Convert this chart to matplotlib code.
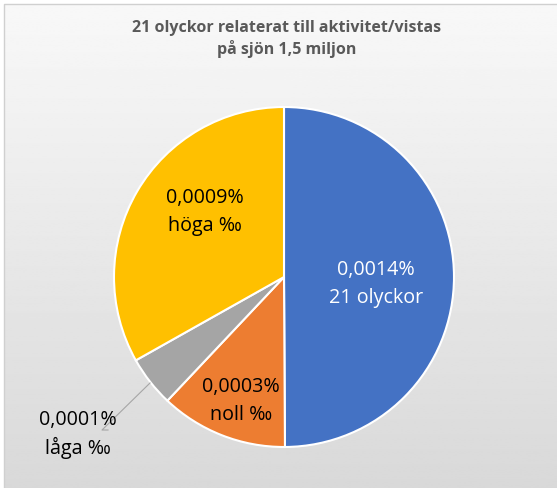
import numpy as np
import matplotlib
matplotlib.use("Agg")
import matplotlib.pyplot as plt

# =====================================================
# Data
# =====================================================

categories = ["21 olyckor", "noll ‰", "låga ‰", "höga ‰"]
pct_labels = ["0,0014%", "0,0003%", "0,0001%", "0,0009%"]
shares = [0.0014, 0.00034, 0.000135, 0.00093]
colors = ["#4472C4", "#ED7D31", "#A5A5A5", "#FFC000"]

title = "21 olyckor relaterat till aktivitet/vistas\npå sjön 1,5 miljon"

plt.rcParams["font.family"] = ["Open Sans", "DejaVu Sans"]

# =====================================================
# Figure (work in pixel units, y up)
# =====================================================

W, H = 557, 488
fig = plt.figure(figsize=(W / 100, H / 100), dpi=100)
fig.patch.set_facecolor("white")
ax = fig.add_axes([0, 0, 1, 1])
ax.set_xlim(0, W)
ax.set_ylim(0, H)
ax.set_aspect("equal")
ax.axis("off")

# gradient background panel
grad = np.linspace(0.973, 0.85, 256).reshape(-1, 1)
ax.imshow(grad, cmap="gray", vmin=0, vmax=1, aspect="auto",
          extent=(4, W, 0, H - 4), origin="upper", zorder=0)
ax.plot([4, 4, W], [0, H - 4, H - 4], color="#D0D0D0", lw=1, zorder=1)

# pie
cx, cy, r = 284, H - 277, 170
wedges, _ = ax.pie(shares, colors=colors, startangle=90, counterclock=False,
                   center=(cx, cy), radius=r,
                   wedgeprops=dict(edgecolor="white", linewidth=1.5))
for w in wedges:
    w.set_zorder(2)
ax.set_xlim(0, W)
ax.set_ylim(0, H)

ax.text(W / 2 + 8, H - 39, title, ha="center", va="center", fontsize=11.5,
        fontweight="bold", color="#595959", linespacing=1.35, zorder=3)

# data labels
label_pos = [(376, 284), (241, 401), (78, 434), (205, 212)]
label_col = ["white", "black", "black", "black"]
for (x, y), pct, cat, col in zip(label_pos, pct_labels, categories, label_col):
    ax.text(x, H - y + 14, pct, ha="center", va="center", fontsize=14.2,
            color=col, zorder=4)
    ax.text(x, H - y - 14, cat, ha="center", va="center", fontsize=14.2,
            color=col, zorder=4)

# leader line for the small slice
ax.plot([150, 102, 108], [H - 383, H - 430, H - 430], color="#A6A6A6",
        lw=0.8, zorder=3)

fig.savefig("out.png", dpi=100)
